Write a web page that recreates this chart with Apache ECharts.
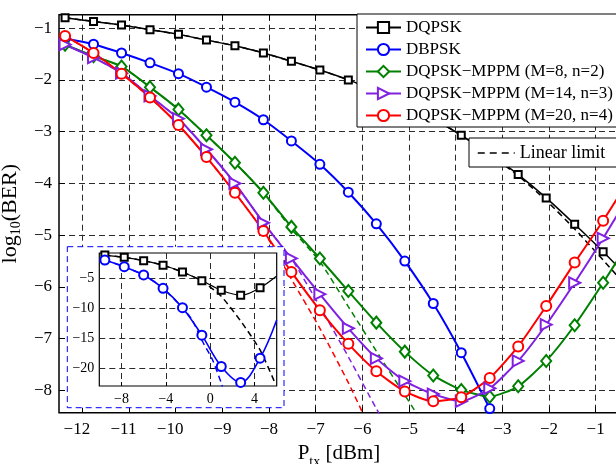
<!DOCTYPE html>
<html>
<head>
<meta charset="utf-8">
<script src="https://cdn.jsdelivr.net/npm/echarts@6/dist/echarts.min.js"></script>
<style>
  html, body { margin: 0; padding: 0; background: #fff; }
  #chart { width: 616px; height: 464px; }
</style>
</head>
<body>
<div id="chart"></div>
<script>
// ---- main panel: BER vs launch power ----
const powerDbm = [-12.37, -11.76, -11.16, -10.55, -9.94, -9.34, -8.73, -8.12, -7.52, -6.91,
                  -6.30, -5.70, -5.09, -4.48, -3.88, -3.27, -2.66, -2.06, -1.45, -0.84, -0.23];
const berDqpsk = [-0.80, -0.87, -0.94, -1.03, -1.12, -1.23, -1.34, -1.48, -1.64, -1.81,
                  -2.00, -2.22, -2.47, -2.75, -3.07, -3.43, -3.83, -4.28, -4.79, -5.32, -5.88];
const berDbpsk = [-1.20, -1.31, -1.48, -1.67, -1.88, -2.14, -2.43, -2.77, -3.18, -3.63,
                  -4.17, -4.78, -5.50, -6.32, -7.27, -8.35];
const berMppm8 = [-1.32, -1.54, -1.74, -2.14, -2.57, -3.07, -3.60, -4.18, -4.84, -5.45,
                  -6.08, -6.69, -7.25, -7.71, -7.99, -8.12, -7.92, -7.43, -6.74, -5.92, -5.05];
const berMppm14 = [-1.32, -1.57, -1.87, -2.31, -2.75, -3.34, -4.00, -4.76, -5.45, -6.14,
                   -6.80, -7.38, -7.82, -8.07, -8.21, -7.96, -7.43, -6.73, -5.92, -5.06, -4.15];
const berMppm20 = [-1.15, -1.48, -1.88, -2.34, -2.87, -3.49, -4.18, -4.92, -5.71, -6.45,
                   -7.10, -7.63, -8.02, -8.21, -8.13, -7.76, -7.15, -6.37, -5.53, -4.72, -3.85];

// linear-limit (no nonlinearity) curves
const limitDqpsk = [-0.80, -0.87, -0.94, -1.03, -1.12, -1.23, -1.34, -1.48, -1.64, -1.81,
                    -2.00, -2.22, -2.47, -2.75, -3.07, -3.44, -3.85, -4.33, -4.88, -5.48, -6.10];
const limitMppm8 = [-1.32, -1.54, -1.74, -2.14, -2.57, -3.07, -3.60, -4.18, -4.88, -5.51,
                    -6.38, -7.24, -8.09, -8.95];
const limitMppm14 = [-1.32, -1.57, -1.87, -2.31, -2.75, -3.34, -4.00, -4.76, -5.45, -6.38,
                     -7.35, -8.35, -9.30];
const limitMppm20 = [-1.15, -1.48, -1.88, -2.34, -2.87, -3.49, -4.18, -4.92, -5.85, -6.80,
                     -7.85, -9.00];

const xTicks = [-12, -11, -10, -9, -8, -7, -6, -5, -4, -3, -2, -1];
const yTicks = [-8, -7, -6, -5, -4, -3, -2, -1];

// ---- inset panel: wider power sweep ----
const insetPower = [-9.5, -7.75, -6.0, -4.25, -2.5, -0.75, 1.0, 2.75, 4.5, 6.0];
const insetDqpsk = [-1.14, -1.52, -2.08, -2.84, -3.96, -5.40, -6.99, -7.82, -6.56, -4.62];
const insetDbpsk = [-1.97, -3.08, -4.45, -6.66, -9.88, -14.45, -19.66, -22.31, -18.27, -11.92];
const insetLimitDqpskPower = [-9.5, -7.75, -6.0, -4.25, -2.5, -0.75, 1.0, 2.75, 4.5, 5.8];
const insetLimitDqpsk = [-1.14, -1.52, -2.08, -2.84, -3.96, -5.45, -8.0, -12.1, -16.9, -22.2];
const insetLimitDbpskPower = [-9.5, -7.75, -6.0, -4.25, -2.5, -1.6, -0.75, 0.2, 1.0, 1.1];
const insetLimitDbpsk = [-1.97, -3.08, -4.45, -6.66, -9.88, -12.0, -15.3, -18.5, -22.4, -23.0];
const insetXTicks = [-8, -4, 0, 4];
const insetYTicks = [-20, -15, -10, -5];

const seriesNames = [
  'DQPSK',
  'DBPSK',
  'DQPSK\u2212MPPM (M=8, n=2)',
  'DQPSK\u2212MPPM (M=14, n=3)',
  'DQPSK\u2212MPPM (M=20, n=4)'
];
const limitName = 'Linear limit';

// ---- styling helpers ----
const SERIF = 'Liberation Serif';
const BLACK = '#000000', BLUE = '#0000ff', GREEN = '#008000', PURPLE = '#8020e0', RED = '#ff0000';
const minus = v => String(v).replace('-', '\u2212');
const pairs = (xs, ys) => ys.map((y, i) => [xs[i], y]);
const gridDash = { show: true, lineStyle: { color: '#2a2a2a', width: 1, type: [6, 4] } };

function markedLine(name, xs, ys, color, symbol, size, width, opts) {
  return Object.assign({
    name, type: 'line', xAxisIndex: 0, yAxisIndex: 0,
    data: pairs(xs, ys),
    smooth: 0.2,
    symbol, symbolSize: size,
    lineStyle: { color, width },
    itemStyle: { color, borderColor: color, borderWidth: width },
    clip: true, z: 3
  }, opts || {});
}
function dashedLine(name, xs, ys, color, axis) {
  return {
    name, type: 'line',
    xAxisIndex: axis ? 2 : 0, yAxisIndex: axis ? 1 : 0,
    data: pairs(xs, ys),
    smooth: 0.2,
    symbol: 'none',
    lineStyle: { color, width: 1.5, type: [6, 4] },
    itemStyle: { color },
    clip: true, z: axis ? 22 : 2
  };
}
function insetLine(xs, ys, color, symbol, size, width) {
  const last = ys.length - 1;
  return {
    name: 'inset ' + symbol, type: 'line', xAxisIndex: 2, yAxisIndex: 1,
    data: ys.map((y, i) => i === last ? { value: [xs[i], y], symbol: 'none' } : [xs[i], y]),
    smooth: 0.35,
    symbol, symbolSize: size,
    lineStyle: { color, width },
    itemStyle: { color, borderColor: color, borderWidth: width },
    clip: true, z: 23
  };
}

const chart = echarts.init(document.getElementById('chart'), null, { renderer: 'canvas' });

const option = {
  animation: false,
  backgroundColor: '#ffffff',
  textStyle: { fontFamily: SERIF },
  grid: [
    { left: 59, top: 14.7, width: 560, height: 398, show: true, borderColor: BLACK, borderWidth: 1.5,
      backgroundColor: 'transparent', containLabel: false, outerBoundsMode: 'none' },
    { left: 99.3, top: 253, width: 177.4, height: 133, show: true, borderColor: BLACK, borderWidth: 1.2,
      backgroundColor: 'transparent', containLabel: false, outerBoundsMode: 'none', z: 20 }
  ],
  xAxis: [
    {
      gridIndex: 0, type: 'value', min: -12.5, max: -0.5, position: 'bottom',
      axisLine: { show: false },
      axisTick: { show: true, inside: true, length: 6, lineStyle: { color: BLACK, width: 1 }, customValues: xTicks },
      axisLabel: {
        customValues: xTicks, margin: 8, color: BLACK, fontFamily: SERIF, fontSize: 17,
        formatter: v => Math.abs(v) >= 10 ? '{w|' + minus(v) + '}' : minus(v),
        rich: { w: { fontFamily: SERIF, fontSize: 17, color: BLACK, padding: [0, 11, 0, 0] } }
      },
      splitLine: gridDash,
      name: 'P{sub|tx} [dBm]', nameLocation: 'middle', nameGap: 24,
      nameTextStyle: {
        color: BLACK, fontFamily: SERIF, fontSize: 21,
        rich: { sub: { fontFamily: SERIF, fontSize: 14, color: BLACK, verticalAlign: 'bottom', padding: [18, 0, 0, 0] } }
      }
    },
    {
      gridIndex: 0, type: 'value', min: -12.5, max: -0.5, position: 'top',
      axisLine: { show: false },
      axisTick: { show: true, inside: true, length: 6, lineStyle: { color: BLACK, width: 1 }, customValues: xTicks },
      axisLabel: { show: false },
      splitLine: { show: false }
    },
    {
      gridIndex: 1, type: 'value', min: -10, max: 6, position: 'bottom', z: 20,
      axisLine: { show: false },
      axisTick: { show: true, inside: true, length: 4, lineStyle: { color: BLACK, width: 1 }, customValues: insetXTicks },
      axisLabel: { customValues: insetXTicks, margin: 6, color: BLACK, fontFamily: SERIF, fontSize: 14, formatter: minus },
      splitLine: gridDash
    }
  ],
  yAxis: [
    {
      gridIndex: 0, type: 'value', min: -8.43, max: -0.74,
      axisLine: { show: false },
      axisTick: { show: true, inside: true, length: 6, lineStyle: { color: BLACK, width: 1 }, customValues: yTicks },
      axisLabel: { customValues: yTicks, margin: 7, color: BLACK, fontFamily: SERIF, fontSize: 17, formatter: minus },
      splitLine: gridDash,
      name: 'log{sub|10}(BER)', nameLocation: 'middle', nameGap: 29,
      nameTextStyle: {
        color: BLACK, fontFamily: SERIF, fontSize: 22,
        rich: { sub: { fontFamily: SERIF, fontSize: 14, color: BLACK, verticalAlign: 'bottom', padding: [12, 0, 0, 0] } }
      }
    },
    {
      gridIndex: 1, type: 'value', min: -22.9, max: -0.8, z: 20,
      axisLine: { show: false },
      axisTick: { show: true, inside: true, length: 4, lineStyle: { color: BLACK, width: 1 }, customValues: insetYTicks },
      axisLabel: { customValues: insetYTicks, margin: 5, color: BLACK, fontFamily: SERIF, fontSize: 14, formatter: minus },
      splitLine: gridDash
    }
  ],
  legend: [
    {
      data: seriesNames, orient: 'vertical', left: 357, top: 14,
      padding: [5, 14, 3, 8], itemGap: 5, itemWidth: 35, itemHeight: 14,
      backgroundColor: '#ffffff', borderColor: BLACK, borderWidth: 1, borderRadius: 0,
      textStyle: { color: BLACK, fontFamily: SERIF, fontSize: 17 },
      selectedMode: false, z: 6
    },
    {
      data: [limitName], orient: 'vertical', left: 469, top: 138,
      padding: [6, 14, 5, 8], itemWidth: 37, itemHeight: 14,
      backgroundColor: '#ffffff', borderColor: BLACK, borderWidth: 1, borderRadius: 0,
      itemStyle: { color: 'transparent', borderColor: 'transparent', borderWidth: 0, opacity: 0 },
      lineStyle: { color: BLACK, width: 1.5, type: [7, 5] },
      textStyle: { color: BLACK, fontFamily: SERIF, fontSize: 18 },
      selectedMode: false, z: 6
    }
  ],
  graphic: [
    {
      type: 'rect', z: 10,
      shape: { x: 67.3, y: 246.7, width: 216.7, height: 161 },
      style: { fill: '#ffffff', stroke: BLUE, lineWidth: 1, lineDash: [6, 4] }
    }
  ],
  series: [
    dashedLine(limitName, powerDbm, limitDqpsk, BLACK),
    dashedLine(limitName, powerDbm, limitMppm8, GREEN),
    dashedLine(limitName, powerDbm, limitMppm14, PURPLE),
    dashedLine(limitName, powerDbm, limitMppm20, RED),
    markedLine(seriesNames[0], powerDbm, berDqpsk, BLACK, 'emptyRect', 7, 1.5),
    markedLine(seriesNames[1], powerDbm, berDbpsk, BLUE, 'emptyCircle', 9, 2),
    markedLine(seriesNames[2], powerDbm, berMppm8, GREEN, 'emptyDiamond', [10, 12], 2),
    markedLine(seriesNames[3], powerDbm, berMppm14, PURPLE, 'emptyTriangle', 11, 2, { symbolRotate: -90 }),
    markedLine(seriesNames[4], powerDbm, berMppm20, RED, 'emptyCircle', 10, 2),
    dashedLine('inset DQPSK limit', insetLimitDqpskPower, insetLimitDqpsk, BLACK, 1),
    dashedLine('inset DBPSK limit', insetLimitDbpskPower, insetLimitDbpsk, BLUE, 1),
    insetLine(insetPower, insetDqpsk, BLACK, 'emptyRect', 7, 1.2),
    insetLine(insetPower, insetDbpsk, BLUE, 'emptyCircle', 9, 1.6)
  ]
};

chart.setOption(option);
</script>
</body>
</html>
